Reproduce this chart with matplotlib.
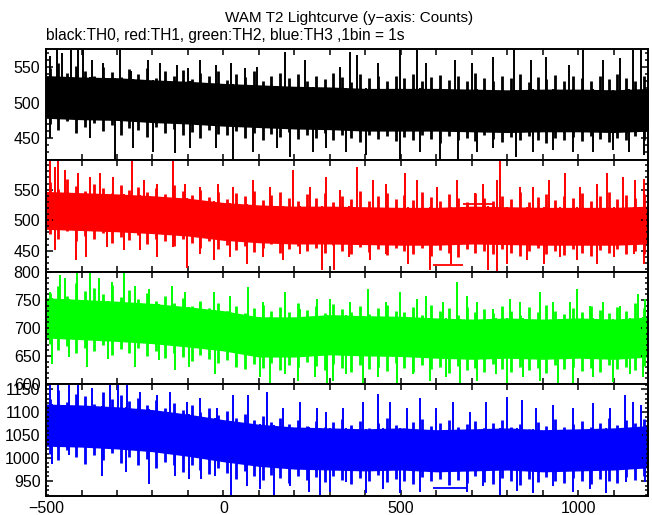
import numpy as np
import matplotlib
matplotlib.use('Agg')
import matplotlib.pyplot as plt
from matplotlib.ticker import MultipleLocator

plt.rcParams['font.family'] = ['Liberation Sans', 'DejaVu Sans']

# --- Datos ---------------------------------------------------------------------------------------
t_nodes = [-500, -400, -300, -200, -100, 0, 100, 200, 300, 400, 500, 600, 700, 800, 900, 1000, 1100, 1200]

# banda densa (min / max de la zona solida)
black_lo = [478, 476, 475, 472, 470, 467, 465, 463, 462, 460, 460, 460, 459, 458, 459, 459, 458, 460]
black_hi = [538, 536, 535, 532, 530, 527, 525, 523, 522, 520, 520, 520, 519, 518, 519, 519, 518, 520]
red_lo = [485, 483, 481, 478, 474, 467, 463, 461, 461, 460, 459, 459, 461, 460, 459, 459, 459, 461]
red_hi = [547, 545, 543, 540, 536, 529, 525, 523, 523, 522, 521, 521, 523, 522, 521, 521, 521, 523]
green_lo = [682, 679, 676, 672, 666, 659, 648, 648, 652, 650, 649, 646, 644, 646, 644, 646, 644, 648]
green_hi = [754, 751, 748, 744, 738, 731, 720, 720, 724, 722, 721, 718, 716, 718, 716, 718, 716, 720]
blue_lo = [1026, 1024, 1020, 1014, 1004, 992, 982, 976, 974, 972, 974, 970, 972, 974, 970, 972, 974, 979]
blue_hi = [1118, 1116, 1112, 1106, 1096, 1084, 1074, 1068, 1066, 1064, 1066, 1062, 1064, 1066, 1062, 1064, 1066, 1071]

# "pelo" alrededor de la banda: altura de los picos medianos cada 25 s
t_hair = list(range(-490, 1190, 25))
black_hair_up = [548, 556, 541, 552, 545, 538, 550, 543, 536, 547, 540, 549, 535, 544, 538, 546, 533, 541, 537, 544,
                 532, 540, 536, 545, 530, 538, 542, 534, 540, 531, 538, 533, 541, 536, 529, 540, 534, 538, 531, 537,
                 534, 540, 530, 536, 539, 532, 537, 530, 541, 535, 531, 538, 534, 540, 529, 536, 533, 539, 531, 537,
                 534, 530, 538, 533, 540, 535, 531, 538]
black_hair_dn = [470, 462, 474, 458, 466, 471, 460, 468, 455, 464, 461, 452, 466, 457, 463, 455, 459, 450, 462, 456,
                 454, 460, 451, 457, 448, 456, 452, 459, 449, 455, 451, 457, 448, 454, 450, 445, 455, 449, 453, 446,
                 452, 447, 455, 449, 444, 453, 448, 451, 446, 454, 449, 445, 452, 447, 453, 448, 444, 451, 447, 452,
                 446, 453, 449, 445, 451, 447, 453, 448]
red_hair_up = [562, 551, 568, 556, 548, 560, 553, 545, 557, 549, 555, 546, 552, 543, 558, 547, 541, 550, 538, 546,
               535, 544, 539, 548, 533, 541, 546, 537, 531, 543, 536, 545, 530, 540, 535, 547, 532, 539, 544, 534,
               541, 533, 546, 538, 531, 543, 536, 529, 545, 537, 532, 540, 535, 546, 530, 538, 543, 533, 540, 536,
               544, 531, 539, 546, 534, 541, 537, 543]
red_hair_dn = [478, 470, 482, 466, 474, 469, 479, 463, 472, 467, 475, 461, 470, 466, 458, 469, 462, 455, 466, 452,
               460, 451, 457, 448, 455, 461, 446, 453, 458, 449, 454, 447, 459, 450, 444, 456, 448, 452, 443, 455,
               449, 445, 454, 441, 451, 447, 439, 453, 446, 450, 444, 452, 447, 441, 450, 455, 445, 449, 443, 452,
               447, 442, 451, 446, 453, 444, 449, 445]
green_hair_up = [762, 775, 758, 781, 766, 772, 760, 777, 755, 768, 752, 763, 748, 758, 744, 753, 740, 749, 736, 745,
                 731, 740, 726, 735, 742, 730, 738, 728, 744, 733, 739, 727, 743, 734, 729, 740, 725, 736, 742, 731,
                 728, 737, 724, 741, 730, 735, 723, 738, 729, 734, 726, 739, 731, 724, 737, 728, 742, 730, 725, 736,
                 729, 740, 733, 726, 738, 731, 744, 735]
green_hair_dn = [672, 660, 668, 655, 665, 658, 670, 652, 662, 656, 664, 650, 659, 646, 655, 649, 641, 652, 645, 638,
                 643, 631, 626, 635, 628, 637, 624, 633, 630, 639, 632, 625, 636, 629, 622, 634, 627, 631, 623, 637,
                 628, 621, 633, 626, 630, 620, 632, 625, 629, 622, 635, 627, 621, 631, 624, 629, 620, 633, 626, 630,
                 623, 628, 621, 634, 626, 630, 624, 632]
blue_hair_up = [1130, 1148, 1122, 1140, 1135, 1118, 1145, 1128, 1138, 1124, 1132, 1115, 1127, 1110, 1121, 1106, 1115,
                1100, 1109, 1095, 1102, 1088, 1097, 1083, 1092, 1078, 1087, 1074, 1084, 1070, 1080, 1068, 1078, 1086,
                1072, 1081, 1066, 1077, 1088, 1073, 1064, 1079, 1085, 1070, 1076, 1083, 1068, 1074, 1080, 1065, 1077,
                1084, 1069, 1075, 1062, 1079, 1071, 1086, 1067, 1074, 1081, 1069, 1077, 1088, 1072, 1083, 1076, 1085]
blue_hair_dn = [1010, 995, 1018, 1002, 988, 1007, 996, 1012, 990, 1003, 985, 998, 978, 992, 984, 970, 986, 975, 966,
                979, 968, 955, 971, 960, 952, 964, 957, 946, 962, 953, 958, 948, 961, 952, 944, 957, 950, 963, 947,
                955, 951, 943, 958, 949, 955, 941, 953, 946, 960, 948, 944, 956, 950, 942, 954, 947, 959, 951, 945,
                957, 949, 943, 955, 951, 946, 958, 952, 960]

# picos altos (tiempo, cuentas)
black_up = [(-490, 565), (-470, 576), (-455, 570), (-430, 579), (-410, 575), (-395, 579), (-370, 560), (-340, 555),
            (-291, 574), (-260, 545), (-212, 560), (-180, 555), (-132, 553), (-100, 548), (-66, 560), (-20, 553),
            (20, 556), (60, 548), (94, 550), (173, 571), (230, 560), (327, 550), (356, 571), (375, 567), (435, 555),
            (497, 579), (544, 579), (572, 555), (651, 560), (700, 555), (759, 564), (820, 574), (866, 560),
            (910, 564), (975, 553), (1012, 577), (1069, 560), (1116, 562), (1153, 579), (1177, 579)]
black_dn = [(-488, 450), (-376, 450), (-305, 419), (-254, 436), (-198, 431), (-137, 429), (-95, 436), (-20, 436),
            (27, 421), (84, 431), (150, 436), (187, 424), (253, 431), (290, 436), (346, 431), (402, 426), (497, 419),
            (553, 431), (610, 421), (661, 419), (713, 431), (760, 436), (825, 424), (872, 431), (929, 433),
            (985, 431), (1041, 431), (1097, 433), (1144, 431), (1186, 426)]
red_up = [(-488, 598), (-476, 587), (-465, 598), (-446, 582), (-409, 577), (-375, 571), (-349, 577), (-311, 571),
          (-258, 598), (-225, 566), (-188, 560), (-142, 598), (-108, 560), (-66, 555), (-15, 560), (27, 555),
          (84, 566), (131, 555), (197, 582), (244, 555), (290, 571), (327, 549), (375, 587), (422, 566), (459, 560),
          (511, 577), (544, 566), (601, 555), (657, 566), (709, 544), (732, 560), (770, 566), (779, 600),
          (836, 555), (873, 555), (916, 566), (963, 577), (1005, 555), (1052, 560), (1080, 577), (1127, 571),
          (1160, 566), (1184, 568)]
red_dn = [(-476, 451), (-415, 434), (-387, 440), (-328, 456), (-281, 451), (-234, 451), (-188, 440), (-142, 456),
          (-104, 421), (-66, 445), (-28, 434), (18, 440), (65, 429), (112, 440), (169, 434), (216, 445), (277, 418),
          (312, 418), (355, 440), (412, 434), (459, 445), (520, 429), (581, 418), (642, 429), (746, 418),
          (770, 415), (798, 429), (855, 434), (902, 429), (949, 440), (995, 434), (1052, 429), (1099, 440),
          (1156, 445), (1184, 429)]
green_up = [(-488, 764), (-460, 795), (-446, 789), (-413, 800), (-375, 800), (-352, 789), (-313, 782), (-281, 800),
            (-248, 776), (-210, 770), (-145, 776), (-108, 764), (-66, 746), (-28, 764), (18, 758), (70, 773),
            (112, 746), (173, 764), (216, 734), (263, 752), (300, 752), (356, 746), (408, 770), (459, 746),
            (497, 764), (544, 752), (572, 758), (619, 746), (657, 782), (685, 758), (713, 746), (760, 734),
            (807, 752), (836, 746), (892, 764), (929, 746), (976, 746), (995, 770), (1033, 740), (1070, 746),
            (1117, 740), (1169, 761), (1188, 752)]
green_dn = [(-483, 636), (-436, 648), (-385, 630), (-324, 645), (-249, 630), (-183, 642), (-136, 624), (-98, 630),
            (-23, 618), (34, 630), (104, 612), (132, 599), (174, 618), (211, 605), (258, 612), (291, 599), (309, 605),
            (346, 618), (393, 598), (436, 612), (488, 599), (535, 618), (581, 605), (628, 612), (666, 598),
            (713, 605), (769, 618), (798, 599), (845, 612), (892, 605), (943, 598), (985, 599), (1041, 612),
            (1098, 603), (1145, 618), (1183, 612)]
blue_up = [(-488, 1160), (-465, 1160), (-436, 1160), (-409, 1160), (-371, 1153), (-320, 1160), (-296, 1160),
           (-272, 1160), (-234, 1145), (-188, 1138), (-150, 1145), (-104, 1123), (-66, 1131), (-19, 1109),
           (27, 1138), (70, 1138), (122, 1145), (169, 1109), (216, 1123), (263, 1109), (290, 1101), (337, 1109),
           (394, 1123), (436, 1141), (469, 1123), (516, 1109), (553, 1131), (600, 1109), (647, 1123), (694, 1101),
           (741, 1123), (798, 1134), (840, 1127), (882, 1109), (929, 1116), (985, 1109), (1041, 1120), (1088, 1109),
           (1130, 1138), (1153, 1123), (1177, 1116)]
blue_dn = [(-483, 988), (-436, 1006), (-342, 962), (-276, 969), (-211, 944), (-136, 962), (-98, 955), (-62, 955),
           (-24, 962), (22, 918), (65, 940), (103, 933), (141, 918), (188, 940), (240, 925), (273, 920), (300, 925),
           (346, 947), (403, 923), (450, 933), (497, 923), (553, 925), (685, 925), (732, 940), (779, 920),
           (826, 929), (873, 923), (929, 940), (985, 925), (1032, 933), (1079, 923), (1135, 947), (1187, 947)]

# tramos horizontales (hueco de datos): (t0, t1, cuentas)
red_gap = [(591, 675, 426), (675, 759, 527)]
blue_gap = [(591, 685, 934)]

colors = ['black', '#ff0000', '#00ff00', '#0000ff']
bands = [(black_lo, black_hi), (red_lo, red_hi), (green_lo, green_hi), (blue_lo, blue_hi)]
hairs = [(black_hair_up, black_hair_dn), (red_hair_up, red_hair_dn),
         (green_hair_up, green_hair_dn), (blue_hair_up, blue_hair_dn)]
spikes = [(black_up, black_dn), (red_up, red_dn), (green_up, green_dn), (blue_up, blue_dn)]
gaps = [[], red_gap, [], blue_gap]
ylims = [(419, 576), (415, 598), (600, 800), (918, 1162)]

# --- Figura --------------------------------------------------------------------------------------
fig, axs = plt.subplots(4, 1, sharex=True, figsize=(6.52, 5.15), dpi=100)
fig.subplots_adjust(left=0.0706, right=0.9943, top=0.9058, bottom=0.0375, hspace=0)

for ax, c, (lo, hi), (hu, hd), (up, dn), gp, yl in zip(axs, colors, bands, hairs, spikes, gaps, ylims):
    ax.fill_between(t_nodes, lo, hi, color=c, lw=0)
    # pelo (picos medianos)
    ax.vlines(t_hair, np.interp(t_hair, t_nodes, lo), hu, color=c, lw=2.0)
    ax.vlines(t_hair, np.interp(t_hair, t_nodes, hi), hd, color=c, lw=2.0)
    # picos altos
    tu, vu = np.array(up).T
    td, vd = np.array(dn).T
    ax.vlines(tu, np.interp(tu, t_nodes, lo), vu, color=c, lw=1.4)
    ax.vlines(td, np.interp(td, t_nodes, hi), vd, color=c, lw=1.4)
    for t0, t1, v in gp:
        ax.hlines(v, t0, t1, color=c, lw=1.3)
    ax.set_ylim(yl)
    ax.set_xlim(-500, 1197)
    ax.xaxis.set_major_locator(MultipleLocator(500))
    ax.xaxis.set_minor_locator(MultipleLocator(100))
    ax.yaxis.set_major_locator(MultipleLocator(50))
    ax.yaxis.set_minor_locator(MultipleLocator(10))
    ax.tick_params(which='both', direction='in', top=True, right=True, labelsize=11.5, width=1.1, pad=4)
    ax.tick_params(axis='x', which='both', length=4.5)
    ax.tick_params(axis='y', which='major', length=5)
    ax.tick_params(axis='y', which='minor', length=2.5)
    for s in ax.spines.values():
        s.set_linewidth(1.4)

fig.text(0.535, 0.965, 'WAM T2 Lightcurve (y\u2212axis: Counts)', ha='center', va='center', fontsize=11)
fig.text(0.0706, 0.932, 'black:TH0, red:TH1, green:TH2, blue:TH3 ,1bin = 1s', ha='left', va='center', fontsize=11.2)

fig.savefig('out.png', dpi=100)
